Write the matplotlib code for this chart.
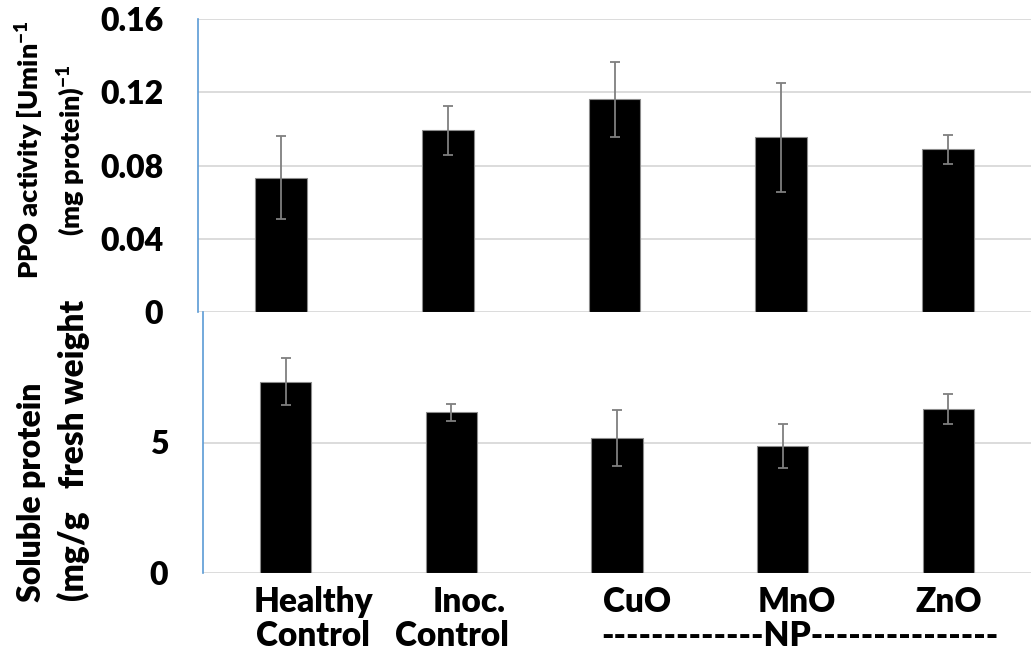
import matplotlib
matplotlib.use("Agg")
import matplotlib.pyplot as plt
import numpy as np

# ---- data ----
categories = ["Healthy Control", "Inoc. Control", "CuO NP", "MnO NP", "ZnO NP"]
ppo_values = [0.0734, 0.0993, 0.1162, 0.0953, 0.0888]
ppo_errors = [0.0225, 0.0134, 0.0205, 0.0295, 0.0078]
protein_values = [7.33, 6.16, 5.18, 4.87, 6.27]
protein_errors = [0.89, 0.33, 1.08, 0.83, 0.57]
ppo_ticks = [0, 0.04, 0.08, 0.12, 0.16]
ppo_ticklabels = ["0", "0.04", "0.08", "0.12", "0.16"]
protein_ticks = [0, 5]
protein_ticklabels = ["0", "5"]
label_line1 = ["Healthy", "Inoc.", "CuO", "MnO", "ZnO"]
label_line2 = ["Control", "Control"]
group_label = "-------------NP---------------"

FONT = "Lato"
WT = "heavy"
plt.rcParams["font.family"] = [FONT, "DejaVu Sans"]
plt.rcParams["font.weight"] = WT
plt.rcParams["mathtext.fontset"] = "custom"
plt.rcParams["mathtext.rm"] = FONT + ":" + WT
plt.rcParams["mathtext.bf"] = FONT + ":" + WT
plt.rcParams["mathtext.it"] = FONT + ":" + WT
plt.rcParams["mathtext.default"] = "regular"

W, H = 1031, 668
fig = plt.figure(figsize=(W / 100, H / 100), dpi=100)


def rect(l, t, r, b):
    return [l / W, 1 - b / H, (r - l) / W, (b - t) / H]


def fx(x):
    return x / W


def fy(y):
    return 1 - y / H


GRID = "#D9D9D9"
AXBLUE = "#5B9BD5"
ERR = "#7F7F7F"
x = np.arange(len(categories))
bar_w = 0.31


def style(ax, ticks, ticklabels, ylim):
    ax.set_xlim(-0.5, len(categories) - 0.5)
    ax.set_ylim(*ylim)
    ax.set_yticks(ticks)
    ax.set_yticklabels(ticklabels, fontsize=23, fontweight=WT)
    ax.tick_params(axis="y", length=0, pad=25)
    ax.set_xticks([])
    for s in ["top", "right", "bottom"]:
        ax.spines[s].set_visible(False)
    ax.spines["left"].set_color(AXBLUE)
    ax.spines["left"].set_linewidth(1.2)
    ax.set_axisbelow(True)
    ax.yaxis.grid(True, color=GRID, linewidth=1.3)
    ax.patch.set_alpha(0)


# top panel
ax1 = fig.add_axes(rect(198, 19, 1031, 312))
ax1.bar(x, ppo_values, width=bar_w, color="black", edgecolor="#8C8C8C", linewidth=0.8, zorder=2)
ax1.errorbar(x, ppo_values, yerr=ppo_errors, fmt="none", ecolor=ERR, elinewidth=1.3,
             capsize=3.5, capthick=1.3, zorder=3)
style(ax1, ppo_ticks, ppo_ticklabels, (0, 0.16))

# bottom panel
ax2 = fig.add_axes(rect(203, 312, 1031, 573))
ax2.bar(x, protein_values, width=bar_w, color="black", edgecolor="#8C8C8C", linewidth=0.8, zorder=2)
ax2.errorbar(x, protein_values, yerr=protein_errors, fmt="none", ecolor=ERR, elinewidth=1.3,
             capsize=3.5, capthick=1.3, zorder=3)
style(ax2, protein_ticks, protein_ticklabels, (0, 10))

# y-axis titles
fig.text(fx(30), fy(150), "PPO activity [Umin$^{-1}$", rotation=90, ha="center", va="center",
         fontsize=19.5, fontweight=WT)
fig.text(fx(72), fy(150), "(mg protein)$^{-1}$", rotation=90, ha="center", va="center",
         fontsize=19.5, fontweight=WT)
fig.text(fx(32), fy(602), "Soluble protein", rotation=90, ha="center", va="bottom",
         fontsize=23, fontweight=WT)
fig.text(fx(73), fy(601), "(mg/g   fresh weight", rotation=90, ha="center", va="bottom",
         fontsize=24, fontweight=WT)

# category labels
line1_x = [313, 469, 637, 797, 949]
for lab, cx in zip(label_line1, line1_x):
    fig.text(fx(cx), fy(612), lab, ha="center", va="baseline", fontsize=24, fontweight=WT)
line2_x = [313, 452]
for lab, cx in zip(label_line2, line2_x):
    fig.text(fx(cx), fy(646), lab, ha="center", va="baseline", fontsize=24, fontweight=WT)
fig.text(fx(800), fy(646), group_label, ha="center", va="baseline", fontsize=24, fontweight=WT)

fig.savefig("out.png", dpi=100)
